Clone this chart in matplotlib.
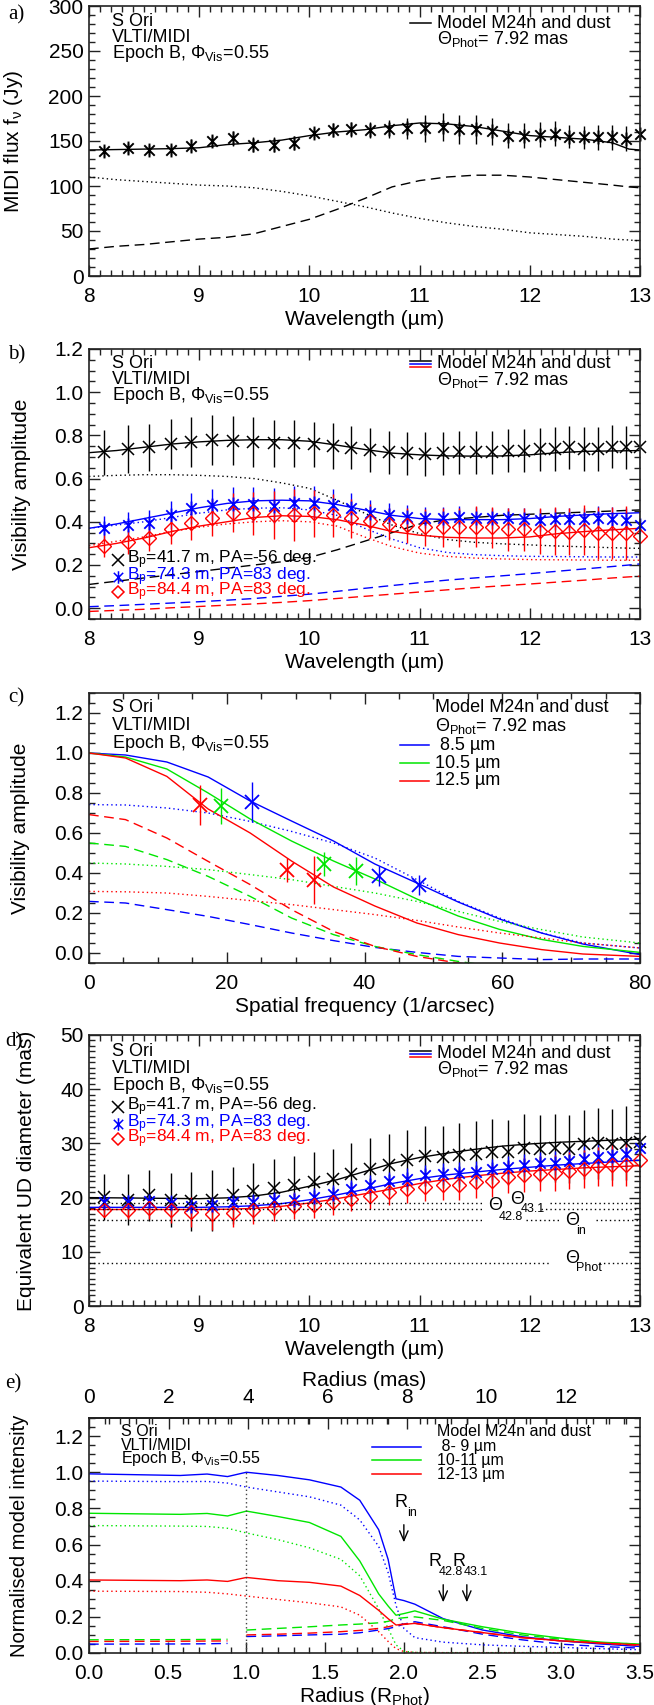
import numpy as np
import matplotlib
matplotlib.use('Agg')
import matplotlib.pyplot as plt
from matplotlib.path import Path
from matplotlib.lines import Line2D
from matplotlib.ticker import MultipleLocator

plt.rcParams['font.family'] = ['Liberation Sans', 'DejaVu Sans']
plt.rcParams['mathtext.fontset'] = 'custom'
plt.rcParams['mathtext.rm'] = 'Liberation Sans'
plt.rcParams['mathtext.it'] = 'Liberation Sans:italic'
plt.rcParams['mathtext.bf'] = 'Liberation Sans:bold'

# ---------------- data ----------------
THETA_PHOT = 7.92
lam = [8.14, 8.35, 8.54, 8.74, 8.93, 9.12, 9.31, 9.49, 9.68, 9.86, 10.04, 10.21, 10.38, 10.55, 10.72,
       10.89, 11.05, 11.21, 11.36, 11.51, 11.66, 11.80, 11.95, 12.09, 12.23, 12.36, 12.49, 12.62, 12.75, 12.87, 13.00]
lam_m = [8.0, 8.25, 8.5, 8.75, 9.0, 9.25, 9.5, 9.75, 10.0, 10.25, 10.5, 10.75, 11.0, 11.25, 11.5, 11.75,
         12.0, 12.25, 12.5, 12.75, 12.9, 13.0]

# panel a
flux = [138.5, 142, 140, 140, 145, 150, 153, 146, 146, 148, 159, 162, 163, 162, 163, 164, 164, 165.5, 163, 163,
        161, 156, 156, 157, 158, 155, 154, 154, 154, 152.5, 158]
flux_err = [6, 6, 6, 6, 7, 7, 8, 8, 8, 8, 6, 8, 8, 9, 10, 12, 15, 16, 16, 16, 15, 14, 14, 14, 14, 13, 13, 14, 14, 14, 15]
flux_model = [140, 140.5, 141, 141.5, 142.5, 146, 148, 151, 156, 160, 162.5, 167, 170, 169, 166, 161, 156, 154, 152, 148, 141, 140]
flux_star = [110, 107, 105, 103, 101, 100, 98, 94, 89, 83, 77, 70, 64, 59, 55, 52, 48, 46, 44, 41, 40, 39]
flux_dust = [30, 33, 35, 38, 41, 43, 47, 55, 63, 74, 86, 99, 106, 110, 112, 112, 110, 107, 104, 101, 99, 98]

# panel b
vis_k = [0.722, 0.737, 0.745, 0.760, 0.771, 0.779, 0.776, 0.768, 0.763, 0.763, 0.759, 0.751, 0.743, 0.732, 0.722,
         0.717, 0.714, 0.717, 0.722, 0.722, 0.722, 0.729, 0.729, 0.736, 0.737, 0.745, 0.737, 0.737, 0.748, 0.745, 0.748]
vis_k_err = [0.105, 0.11, 0.11, 0.115, 0.115, 0.117, 0.115, 0.115, 0.11, 0.11, 0.105, 0.105, 0.1, 0.1, 0.1, 0.1,
             0.1, 0.1, 0.1, 0.1, 0.1, 0.1, 0.1, 0.1, 0.1, 0.1, 0.1, 0.1, 0.1, 0.1, 0.1]
vis_b = [0.373, 0.385, 0.393, 0.431, 0.462, 0.478, 0.481, 0.481, 0.475, 0.486, 0.486, 0.478, 0.462, 0.442, 0.431,
         0.424, 0.419, 0.419, 0.424, 0.419, 0.416, 0.416, 0.413, 0.409, 0.413, 0.413, 0.413, 0.416, 0.413, 0.409, 0.385]
vis_b_err = [0.055, 0.06, 0.06, 0.065, 0.07, 0.075, 0.08, 0.08, 0.08, 0.078, 0.078, 0.075, 0.07, 0.06, 0.055, 0.052,
             0.05, 0.05, 0.05, 0.05, 0.05, 0.05, 0.05, 0.05, 0.052, 0.052, 0.052, 0.055, 0.055, 0.055, 0.06]
vis_r = [0.288, 0.308, 0.327, 0.365, 0.396, 0.419, 0.442, 0.439, 0.431, 0.431, 0.439, 0.431, 0.416, 0.404, 0.390,
         0.384, 0.374, 0.374, 0.374, 0.378, 0.374, 0.365, 0.365, 0.358, 0.358, 0.354, 0.362, 0.350, 0.350, 0.350, 0.335]
vis_r_err = [0.05, 0.055, 0.06, 0.07, 0.08, 0.085, 0.09, 0.1, 0.11, 0.12, 0.11, 0.1, 0.09, 0.08, 0.075, 0.08, 0.085,
             0.09, 0.09, 0.095, 0.095, 0.1, 0.1, 0.105, 0.11, 0.11, 0.115, 0.12, 0.12, 0.125, 0.12]
vis_k_model = [0.72, 0.73, 0.745, 0.76, 0.77, 0.777, 0.78, 0.78, 0.773, 0.755, 0.735, 0.718, 0.71, 0.705, 0.704,
               0.705, 0.71, 0.72, 0.726, 0.728, 0.729, 0.73]
vis_k_star = [0.61, 0.615, 0.618, 0.618, 0.615, 0.61, 0.60, 0.58, 0.555, 0.50, 0.44, 0.385, 0.345, 0.318, 0.305,
              0.298, 0.293, 0.288, 0.284, 0.28, 0.278, 0.277]
vis_k_dust = [0.11, 0.125, 0.14, 0.155, 0.17, 0.185, 0.20, 0.215, 0.235, 0.27, 0.31, 0.35, 0.39, 0.41, 0.42, 0.43,
              0.435, 0.44, 0.445, 0.45, 0.453, 0.455]
vis_b_model = [0.37, 0.39, 0.415, 0.44, 0.465, 0.485, 0.497, 0.50, 0.497, 0.48, 0.455, 0.43, 0.415, 0.41, 0.41,
               0.41, 0.415, 0.425, 0.432, 0.438, 0.44, 0.442]
vis_b_star = [0.37, 0.385, 0.40, 0.42, 0.44, 0.455, 0.463, 0.465, 0.455, 0.43, 0.37, 0.32, 0.28, 0.258, 0.248,
              0.243, 0.24, 0.239, 0.238, 0.237, 0.237, 0.237]
vis_b_dust = [0.007, 0.012, 0.018, 0.024, 0.03, 0.037, 0.045, 0.055, 0.065, 0.078, 0.092, 0.105, 0.118, 0.13, 0.14,
              0.15, 0.16, 0.171, 0.182, 0.193, 0.2, 0.205]
vis_r_model = [0.28, 0.30, 0.325, 0.355, 0.38, 0.40, 0.42, 0.428, 0.425, 0.41, 0.385, 0.355, 0.338, 0.328, 0.325,
               0.325, 0.33, 0.345, 0.355, 0.363, 0.367, 0.37]
vis_r_star = [0.29, 0.31, 0.33, 0.355, 0.375, 0.39, 0.40, 0.405, 0.40, 0.38, 0.33, 0.285, 0.255, 0.24, 0.232,
              0.228, 0.225, 0.224, 0.223, 0.222, 0.222, 0.222]
vis_r_dust = [-0.015, -0.01, -0.005, 0.002, 0.008, 0.014, 0.02, 0.027, 0.035, 0.045, 0.055, 0.065, 0.075, 0.085,
              0.095, 0.104, 0.112, 0.121, 0.13, 0.14, 0.145, 0.148]

# panel c
sf_m = [0, 5.3, 11.3, 17.3, 23.4, 29.4, 35.5, 41.5, 47.6, 53.6, 59.6, 65.7, 71.7, 80]
v85_model = [1.0, 0.99, 0.955, 0.88, 0.76, 0.66, 0.56, 0.445, 0.35, 0.255, 0.17, 0.10, 0.045, -0.008]
v105_model = [1.0, 0.98, 0.92, 0.80, 0.67, 0.56, 0.46, 0.37, 0.27, 0.185, 0.118, 0.068, 0.033, 0.003]
v125_model = [1.0, 0.975, 0.883, 0.72, 0.60, 0.46, 0.33, 0.235, 0.15, 0.092, 0.05, 0.017, -0.005, -0.017]
v85_star = [0.742, 0.74, 0.725, 0.70, 0.658, 0.608, 0.55, 0.475, 0.367, 0.258, 0.175, 0.10, 0.05, 0.025]
v105_star = [0.45, 0.445, 0.433, 0.417, 0.392, 0.367, 0.333, 0.30, 0.258, 0.208, 0.158, 0.117, 0.08, 0.05]
v125_star = [0.308, 0.306, 0.30, 0.283, 0.262, 0.242, 0.217, 0.192, 0.163, 0.13, 0.10, 0.075, 0.05, 0.025]
v85_dust = [0.258, 0.25, 0.217, 0.183, 0.142, 0.10, 0.062, 0.028, 0.003, -0.017, -0.025, -0.033, -0.03, -0.03]
v105_dust = [0.55, 0.533, 0.467, 0.383, 0.283, 0.175, 0.092, 0.033, -0.008, -0.042, -0.07, -0.09, -0.1, -0.1]
v125_dust = [0.692, 0.667, 0.575, 0.458, 0.342, 0.217, 0.108, 0.033, -0.017, -0.05, -0.075, -0.09, -0.1, -0.1]
sf85 = [23.6, 42.1, 47.9]
obs85 = [0.753, 0.387, 0.342]
err85 = [0.10, 0.05, 0.05]
sf105 = [19.2, 34.1, 38.7]
obs105 = [0.737, 0.447, 0.408]
err105 = [0.09, 0.06, 0.07]
sf125 = [16.1, 28.8, 32.7]
obs125 = [0.738, 0.413, 0.367]
err125 = [0.10, 0.06, 0.12]

# panel d
ud_k = [20.1, 19.6, 20.4, 19.6, 19.3, 19.5, 20.4, 21.2, 21.8, 22.3, 22.9, 23.4, 24.4, 25.3, 26.1, 26.9, 27.7, 27.5,
        27.8, 28.1, 28.5, 28.4, 29.2, 29.0, 29.2, 29.0, 29.8, 30.0, 29.8, 30.1, 30.3]
ud_k_err = [4.2, 4.7, 4.7, 5.0, 5.4, 5.6, 5.3, 5.2, 5.3, 5.4, 5.5, 5.5, 5.6, 5.7, 5.6, 5.6, 5.5, 5.8, 5.9, 6.0, 6.0,
            6.0, 6.2, 6.2, 6.3, 6.3, 6.4, 6.5, 6.6, 6.8, 6.8]
ud_b = [19.1, 19.2, 19.3, 19.0, 18.5, 18.7, 19.2, 19.2, 19.5, 19.5, 20.1, 20.7, 21.5, 22.3, 23.0, 23.5, 24.1, 24.4,
        24.6, 24.8, 25.2, 25.6, 26.0, 26.3, 26.4, 26.8, 27.2, 27.4, 27.7, 28.0, 29.2]
ud_b_err = [1.3, 1.3, 1.4, 1.4, 1.5, 1.5, 1.5, 1.5, 1.6, 1.6, 1.7, 1.7, 1.8, 1.8, 1.8, 1.9, 1.9, 2.0, 2.0, 2.0, 2.0,
            2.1, 2.1, 2.2, 2.2, 2.3, 2.3, 2.4, 2.4, 2.5, 2.6]
ud_r = [17.8, 17.8, 18.0, 17.7, 17.3, 17.0, 17.2, 17.7, 18.1, 18.4, 18.6, 19.1, 19.8, 20.3, 21.0, 21.5, 22.0, 22.3,
        22.4, 22.8, 23.1, 23.8, 24.2, 24.4, 24.6, 25.0, 25.2, 25.8, 26.0, 26.1, 26.9]
ud_r_err = [1.3, 1.8, 2.0, 2.3, 2.8, 3.0, 2.7, 2.5, 2.4, 2.4, 2.3, 2.3, 2.3, 2.4, 2.4, 2.5, 2.6, 2.7, 2.8, 2.8, 2.9,
            3.0, 3.1, 3.2, 3.3, 3.4, 3.5, 3.6, 3.8, 4.0, 3.5]
ud_k_model = [20.0, 19.95, 19.9, 19.85, 19.8, 19.95, 20.3, 21.0, 22.1, 23.3, 24.8, 26.3, 27.4, 28.2, 28.9, 29.5,
              29.9, 30.2, 30.4, 30.6, 30.7, 30.8]
ud_b_model = [18.2, 18.2, 18.2, 18.2, 18.2, 18.3, 18.5, 18.9, 19.6, 20.5, 21.5, 22.6, 23.5, 24.2, 24.7, 25.2, 25.6,
              26.0, 26.3, 26.6, 26.8, 26.9]
ud_r_model = [17.8, 17.8, 17.8, 17.8, 17.8, 17.85, 18.0, 18.4, 19.0, 19.8, 20.7, 21.6, 22.6, 23.4, 24.0, 24.5, 24.9,
              25.2, 25.5, 25.7, 25.8, 25.9]
R_in, R_428, R_431 = 2.0, 2.25, 2.40

# panel e
rad = [0.0, 0.58, 0.75, 0.88, 1.0, 1.2, 1.4, 1.6, 1.72, 1.84, 1.9, 1.95, 2.0, 2.07, 2.25, 2.5, 2.75, 3.0, 3.25, 3.5]
I89 = [0.991, 0.982, 0.99, 0.976, 1.0, 0.982, 0.958, 0.918, 0.845, 0.682, 0.518, 0.30, 0.29, 0.27, 0.19, 0.127,
       0.09, 0.067, 0.05, 0.036]
I1011 = [0.773, 0.767, 0.772, 0.758, 0.785, 0.755, 0.722, 0.645, 0.509, 0.327, 0.26, 0.209, 0.218, 0.233, 0.187,
         0.145, 0.109, 0.082, 0.06, 0.049]
I1213 = [0.404, 0.40, 0.404, 0.396, 0.418, 0.40, 0.391, 0.37, 0.318, 0.236, 0.19, 0.155, 0.158, 0.164, 0.14, 0.113,
         0.085, 0.067, 0.055, 0.045]
I89_star = [0.951, 0.948, 0.949, 0.94, 0.918, 0.891, 0.864, 0.818, 0.736, 0.59, 0.445, 0.264, 0.136, 0.085, 0.06,
            0.045, 0.037, 0.031, 0.024, 0.018]
I1011_star = [0.705, 0.702, 0.70, 0.69, 0.664, 0.627, 0.582, 0.518, 0.427, 0.245, 0.136, 0.045, 0.01, 0.003, 0.002,
              0.002, 0.002, 0.002, 0.002, 0.002]
I1213_star = [0.342, 0.34, 0.336, 0.327, 0.315, 0.296, 0.278, 0.255, 0.209, 0.118, 0.064, 0.024, 0.008, 0.003,
              0.002, 0.002, 0.002, 0.002, 0.002, 0.002]
I89_dust = [0.049, 0.05, 0.051, 0.053, 0.091, 0.095, 0.10, 0.104, 0.112, 0.127, 0.135, 0.145, 0.16, 0.173, 0.145,
            0.104, 0.073, 0.049, 0.036, 0.027]
I1011_dust = [0.073, 0.074, 0.075, 0.076, 0.127, 0.136, 0.145, 0.155, 0.16, 0.167, 0.175, 0.19, 0.195, 0.20, 0.18,
              0.136, 0.10, 0.076, 0.058, 0.049]
I1213_dust = [0.064, 0.065, 0.066, 0.067, 0.10, 0.104, 0.11, 0.118, 0.125, 0.136, 0.145, 0.155, 0.16, 0.164, 0.14,
              0.113, 0.085, 0.067, 0.054, 0.042]

# ---------------- style ----------------
W, H = 654, 1705
BLUE, RED, GREEN = '#0000ff', '#ff0000', '#00e600'
DOT = (0, (1, 2.2))
DASH = (0, (7, 4))
ast = Path([(0, -1), (0, 1), (-0.75, -0.75), (0.75, 0.75), (-0.75, 0.75), (0.75, -0.75)],
           [Path.MOVETO, Path.LINETO, Path.MOVETO, Path.LINETO, Path.MOVETO, Path.LINETO])

fig = plt.figure(figsize=(W / 100, H / 100), dpi=100)
L, R = 89, 640


def P(x, y):
    return (x / W, 1 - y / H)


def add_ax(T, B):
    ax = fig.add_axes([L / W, 1 - B / H, (R - L) / W, (B - T) / H])
    for s in ax.spines.values():
        s.set_linewidth(1.2)
        s.set_color('#222222')
    ax.tick_params(which='both', direction='in', top=True, right=True, labelsize=15, width=1, color='#222222')
    ax.tick_params(which='major', length=8)
    ax.tick_params(which='minor', length=4)
    ax.tick_params(axis='x', pad=8)
    ax.tick_params(axis='y', pad=4)
    return ax


def ftext(x, y, s, size=13, color='k', ha='left', **kw):
    fig.text(*P(x, y), s, fontsize=size, color=color, ha=ha, va='center', **kw)


def fline(x1, x2, y, color):
    fig.add_artist(Line2D([x1 / W, x2 / W], [1 - y / H, 1 - y / H], color=color, lw=1.1, transform=fig.transFigure))


def fmark(x, y, marker, color, ms):
    fig.add_artist(Line2D([x / W], [1 - y / H], marker=marker, ms=ms, mec=color, mfc='none', mew=1.1,
                          ls='none', transform=fig.transFigure))


def header(y0, dy=16.5, x0=112, size=13):
    ftext(x0, y0, 'S Ori', size)
    ftext(x0, y0 + dy, 'VLTI/MIDI', size)
    ftext(x0, y0 + 2 * dy, 'Epoch B, Φ$_{\\mathrm{Vis}}$=0.55', size)


def panel_label(y, s, x=8):
    fig.text(*P(x, y), s, fontsize=15, family='Liberation Serif', va='center', ha='left')


# ---------------- panel a ----------------
ax = add_ax(6, 276)
ax.plot(lam_m, flux_model, color='k', lw=1)
ax.plot(lam_m, flux_star, color='k', lw=1, ls=DOT)
ax.plot(lam_m, flux_dust, color='k', lw=1, ls=DASH)
ax.errorbar(lam, flux, yerr=flux_err, fmt='none', ecolor='k', elinewidth=1)
ax.plot(lam, flux, ls='none', marker=ast, ms=10, mec='k', mew=1.4, clip_on=False)
ax.set_xlim(8, 13)
ax.set_ylim(0, 300)
ax.xaxis.set_major_locator(MultipleLocator(1))
ax.xaxis.set_minor_locator(MultipleLocator(0.1))
ax.yaxis.set_major_locator(MultipleLocator(50))
ax.yaxis.set_minor_locator(MultipleLocator(10))
ax.set_xlabel('Wavelength (µm)', fontsize=15, labelpad=3)
ax.set_ylabel('MIDI flux f$_{\\mathrm{ν}}$ (Jy)', fontsize=15)
ax.yaxis.set_label_coords((25 - L) / (R - L), 0.5)
panel_label(15, 'a)')
header(21)
fline(410, 431, 23, 'k')
ftext(437, 23, 'Model M24n and dust')
ftext(437, 39, 'Θ$_{\\mathrm{Phot}}$= 7.92 mas')

# ---------------- panel b ----------------
ax = add_ax(349, 619)
for m, s, d, c in [(vis_k_model, vis_k_star, vis_k_dust, 'k'), (vis_b_model, vis_b_star, vis_b_dust, BLUE),
                   (vis_r_model, vis_r_star, vis_r_dust, RED)]:
    ax.plot(lam_m, m, color=c, lw=1)
    ax.plot(lam_m, s, color=c, lw=1, ls=DOT)
    ax.plot(lam_m, d, color=c, lw=1, ls=DASH)
ax.errorbar(lam, vis_k, yerr=vis_k_err, fmt='none', ecolor='k', elinewidth=1)
ax.errorbar(lam, vis_b, yerr=vis_b_err, fmt='none', ecolor=BLUE, elinewidth=1)
ax.errorbar(lam, vis_r, yerr=vis_r_err, fmt='none', ecolor=RED, elinewidth=1)
ax.plot(lam, vis_k, ls='none', marker='x', ms=9, mec='k', mew=1.1, clip_on=False)
ax.plot(lam, vis_b, ls='none', marker=ast, ms=10, mec=BLUE, mew=1.3, clip_on=False)
ax.plot(lam, vis_r, ls='none', marker='D', ms=7, mec=RED, mfc='none', mew=1.0, clip_on=False)
ax.set_xlim(8, 13)
ax.set_ylim(-0.05, 1.2)
ax.xaxis.set_major_locator(MultipleLocator(1))
ax.xaxis.set_minor_locator(MultipleLocator(0.1))
ax.yaxis.set_major_locator(MultipleLocator(0.2))
ax.yaxis.set_minor_locator(MultipleLocator(0.05))
ax.yaxis.set_major_formatter(matplotlib.ticker.FormatStrFormatter('%.1f'))
ax.set_xlabel('Wavelength (µm)', fontsize=15, labelpad=3)
ax.set_ylabel('Visibility amplitude', fontsize=15)
ax.yaxis.set_label_coords((31 - L) / (R - L), 0.5)
panel_label(355, 'b)')
header(363)
fline(410, 431, 361, 'k')
fline(410, 431, 364, BLUE)
fline(410, 431, 367, RED)
ftext(437, 364, 'Model M24n and dust')
ftext(437, 380, 'Θ$_{\\mathrm{Phot}}$= 7.92 mas')
for yy, mk, c, s, ms in [(560, 'x', 'k', 'B$_{\\mathrm{p}}$=41.7 m, PA=-56 deg.', 8),
                         (577, ast, BLUE, 'B$_{\\mathrm{p}}$=74.3 m, PA=83 deg.', 9),
                         (592, 'D', RED, 'B$_{\\mathrm{p}}$=84.4 m, PA=83 deg.', 6)]:
    fmark(118, yy, mk, c, ms)
    ftext(127, yy, s, 12.5, c)

# ---------------- panel c ----------------
ax = add_ax(693, 963)
for m, s, d, c in [(v85_model, v85_star, v85_dust, BLUE), (v105_model, v105_star, v105_dust, GREEN),
                   (v125_model, v125_star, v125_dust, RED)]:
    ax.plot(sf_m, m, color=c, lw=1)
    ax.plot(sf_m, s, color=c, lw=1, ls=DOT)
    ax.plot(sf_m, d, color=c, lw=1, ls=DASH)
for sf, ob, er, c in [(sf85, obs85, err85, BLUE), (sf105, obs105, err105, GREEN), (sf125, obs125, err125, RED)]:
    ax.errorbar(sf, ob, yerr=er, fmt='none', ecolor=c, elinewidth=1)
    ax.plot(sf, ob, ls='none', marker='x', ms=10, mec=c, mew=1.3)
ax.set_xlim(0, 80)
ax.set_ylim(-0.05, 1.3)
ax.xaxis.set_major_locator(MultipleLocator(20))
ax.xaxis.set_minor_locator(MultipleLocator(5))
ax.yaxis.set_major_locator(MultipleLocator(0.2))
ax.yaxis.set_minor_locator(MultipleLocator(0.05))
ax.yaxis.set_major_formatter(matplotlib.ticker.FormatStrFormatter('%.1f'))
ax.set_xlabel('Spatial frequency (1/arcsec)', fontsize=15, labelpad=3)
ax.set_ylabel('Visibility amplitude', fontsize=15)
ax.yaxis.set_label_coords((30 - L) / (R - L), 0.5)
panel_label(698, 'c)')
header(707, dy=18.5)
ftext(435, 707, 'Model M24n and dust')
ftext(435, 726, 'Θ$_{\\mathrm{Phot}}$= 7.92 mas')
for yy, c, s in [(745, BLUE, ' 8.5 µm'), (763, GREEN, '10.5 µm'), (781, RED, '12.5 µm')]:
    fline(400, 429, yy, c)
    ftext(435, yy, s)

# ---------------- panel d ----------------
ax = add_ax(1035, 1306)
for m, c in [(ud_k_model, 'k'), (ud_b_model, BLUE), (ud_r_model, RED)]:
    ax.plot(lam_m, m, color=c, lw=1)
ax.errorbar(lam, ud_k, yerr=ud_k_err, fmt='none', ecolor='k', elinewidth=1)
ax.errorbar(lam, ud_b, yerr=ud_b_err, fmt='none', ecolor=BLUE, elinewidth=1)
ax.errorbar(lam, ud_r, yerr=ud_r_err, fmt='none', ecolor=RED, elinewidth=1)
ax.plot(lam, ud_k, ls='none', marker='x', ms=9, mec='k', mew=1.1, clip_on=False)
ax.plot(lam, ud_b, ls='none', marker=ast, ms=10, mec=BLUE, mew=1.3, clip_on=False)
ax.plot(lam, ud_r, ls='none', marker='D', ms=7, mec=RED, mfc='none', mew=1.0, clip_on=False)
th431, th428, thin = R_431 * THETA_PHOT, R_428 * THETA_PHOT, R_in * THETA_PHOT
for yv, segs in [(th431, [(8, 11.58), (12.18, 13)]), (th428, [(8, 11.58), (12.1, 13)]),
                 (thin, [(8, 11.58), (11.97, 12.27), (12.6, 13)]), (THETA_PHOT, [(8, 12.18), (12.63, 13)])]:
    for a0, a1 in segs:
        ax.plot([a0, a1], [yv, yv], color='k', lw=1, ls=DOT)
ax.text(11.62, th428 + 0.8, 'Θ', fontsize=13, va='center')
ax.text(11.72, th428 - 1.4, '42.8', fontsize=9, va='center')
ax.text(11.82, th431 + 0.6, 'Θ', fontsize=13, va='center')
ax.text(11.92, th431 - 1.1, '43.1', fontsize=9, va='center')
ax.text(12.32, thin - 0.1, 'Θ', fontsize=13, va='center')
ax.text(12.42, thin - 2.0, 'in', fontsize=9, va='center')
ax.text(12.32, THETA_PHOT + 0.8, 'Θ', fontsize=13, va='center')
ax.text(12.42, THETA_PHOT - 1.0, 'Phot', fontsize=9, va='center')
ax.set_xlim(8, 13)
ax.set_ylim(0, 50)
ax.xaxis.set_major_locator(MultipleLocator(1))
ax.xaxis.set_minor_locator(MultipleLocator(0.1))
ax.yaxis.set_major_locator(MultipleLocator(10))
ax.yaxis.set_minor_locator(MultipleLocator(1))
ax.set_xlabel('Wavelength (µm)', fontsize=15, labelpad=3)
ax.set_ylabel('Equivalent UD diameter (mas)', fontsize=15)
ax.yaxis.set_label_coords((36 - L) / (R - L), 0.5)
panel_label(1042, 'd)', x=5)
header(1052)
fline(410, 431, 1051, 'k')
fline(410, 431, 1054, BLUE)
fline(410, 431, 1057, RED)
ftext(437, 1053, 'Model M24n and dust')
ftext(437, 1069, 'Θ$_{\\mathrm{Phot}}$= 7.92 mas')
for yy, mk, c, s, ms in [(1107, 'x', 'k', 'B$_{\\mathrm{p}}$=41.7 m, PA=-56 deg.', 8),
                         (1124, ast, BLUE, 'B$_{\\mathrm{p}}$=74.3 m, PA=83 deg.', 9),
                         (1139, 'D', RED, 'B$_{\\mathrm{p}}$=84.4 m, PA=83 deg.', 6)]:
    fmark(118, yy, mk, c, ms)
    ftext(127, yy, s, 12.5, c)

# ---------------- panel e ----------------
ax = add_ax(1418, 1653)
for m, s, d, c in [(I89, I89_star, I89_dust, BLUE), (I1011, I1011_star, I1011_dust, GREEN),
                   (I1213, I1213_star, I1213_dust, RED)]:
    ax.plot(rad, m, color=c, lw=1)
    ax.plot(rad, s, color=c, lw=1, ls=DOT)
    ax.plot(rad[:4], d[:4], color=c, lw=1, ls=DASH)
    ax.plot(rad[4:], d[4:], color=c, lw=1, ls=DASH)
ax.plot([1.0, 1.0], [0.0, 1.0], color='#444444', lw=1, ls=(0, (1, 2)))
arr = dict(arrowstyle='->,head_length=0.7,head_width=0.3', lw=1, color='k')
ax.annotate('', xy=(R_in, 0.597), xytext=(R_in, 0.725), arrowprops=arr)
ax.annotate('', xy=(R_428, 0.265), xytext=(R_428, 0.393), arrowprops=arr)
ax.annotate('', xy=(R_431, 0.265), xytext=(R_431, 0.393), arrowprops=arr)
ax.text(1.94, 0.83, 'R', fontsize=13, va='center')
ax.text(2.02, 0.775, 'in', fontsize=9, va='center')
ax.text(2.155, 0.505, 'R', fontsize=13, va='center')
ax.text(2.22, 0.45, '42.8', fontsize=9, va='center')
ax.text(2.31, 0.505, 'R', fontsize=13, va='center')
ax.text(2.38, 0.45, '43.1', fontsize=9, va='center')
ax.set_xlim(0, 3.5)
ax.set_ylim(0, 1.3)
ax.tick_params(top=False)
ax.xaxis.set_major_locator(MultipleLocator(0.5))
ax.xaxis.set_minor_locator(MultipleLocator(0.1))
ax.yaxis.set_major_locator(MultipleLocator(0.2))
ax.yaxis.set_minor_locator(MultipleLocator(0.05))
ax.yaxis.set_major_formatter(matplotlib.ticker.FormatStrFormatter('%.1f'))
ax.xaxis.set_major_formatter(matplotlib.ticker.FormatStrFormatter('%.1f'))
ax.set_xlabel('Radius (R$_{\\mathrm{Phot}}$)', fontsize=15, labelpad=1)
ax.set_ylabel('Normalised model intensity', fontsize=14.5)
ax.yaxis.set_label_coords((29 - L) / (R - L), 0.5)
sec = ax.secondary_xaxis('top', functions=(lambda r: r * THETA_PHOT / 2, lambda m: m * 2 / THETA_PHOT))
sec.xaxis.set_major_locator(MultipleLocator(2))
sec.xaxis.set_minor_locator(MultipleLocator(0.5))
sec.tick_params(which='both', direction='in', labelsize=15, width=1, pad=8, color='#222222')
sec.tick_params(which='major', length=8)
sec.tick_params(which='minor', length=4)
sec.set_xlabel('Radius (mas)', fontsize=15, labelpad=1)
sec.spines['top'].set_linewidth(1.2)
panel_label(1384, 'e)', x=5)
header(1432, dy=13.5, x0=121, size=11.5)
ftext(437, 1432, 'Model M24n and dust', 11.5)
for yy, c, s in [(1447, BLUE, ' 8- 9 µm'), (1460, GREEN, '10-11 µm'), (1474, RED, '12-13 µm')]:
    fline(372, 421, yy, c)
    ftext(437, yy, s, 11.5)

fig.savefig('out.png', dpi=100)
